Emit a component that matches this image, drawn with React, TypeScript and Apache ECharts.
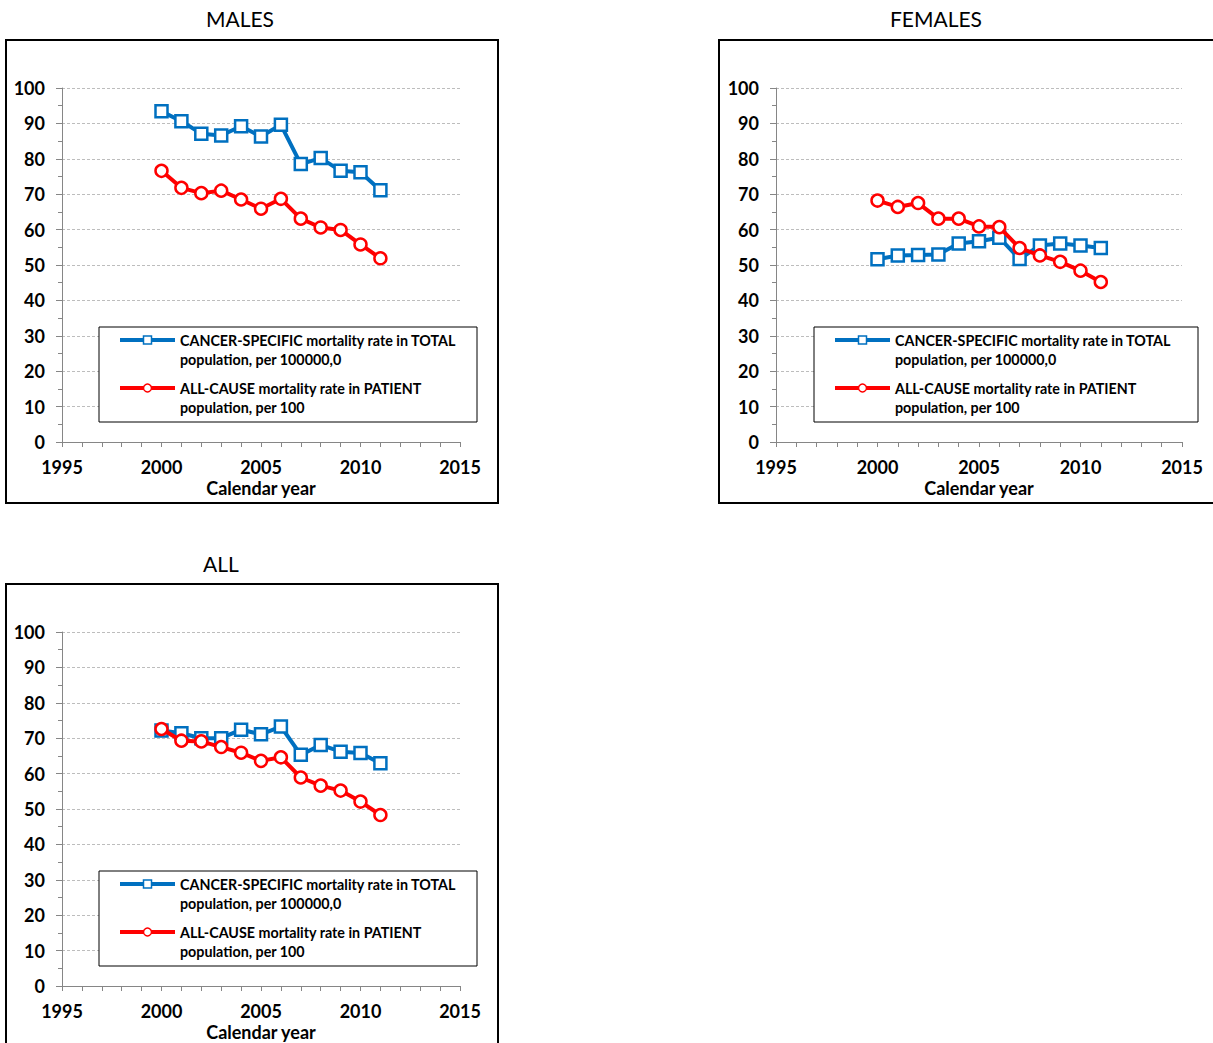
import React, { useEffect, useRef } from "react";
import * as echarts from "echarts";

const years = [2000, 2001, 2002, 2003, 2004, 2005, 2006, 2007, 2008, 2009, 2010, 2011];
const malesCancer = [93.4, 90.6, 87.1, 86.6, 89.2, 86.3, 89.6, 78.5, 80.2, 76.6, 76.2, 71.1];
const malesAllCause = [76.6, 71.8, 70.3, 71.0, 68.5, 65.9, 68.7, 63.1, 60.6, 59.9, 55.8, 51.9];
const femalesCancer = [51.6, 52.7, 52.8, 53.0, 56.1, 56.7, 57.7, 51.7, 55.5, 56.1, 55.5, 54.8];
const femalesAllCause = [68.2, 66.4, 67.5, 63.1, 63.1, 60.9, 60.7, 54.8, 52.7, 50.9, 48.4, 45.2];
const allCancer = [72.2, 71.4, 70.0, 70.0, 72.4, 71.1, 73.3, 65.3, 68.1, 66.2, 65.8, 62.9];
const allAllCause = [72.6, 69.3, 69.1, 67.5, 65.9, 63.6, 64.6, 58.9, 56.6, 55.2, 52.1, 48.3];

const panelTitles = ["MALES", "FEMALES", "ALL"];
const cancerName = "CANCER-SPECIFIC mortality rate in TOTAL";
const cancerName2 = "population, per 100000,0";
const allCauseName = "ALL-CAUSE mortality rate in PATIENT";
const allCauseName2 = "population, per 100";
const xAxisName = "Calendar year";

const BLUE = "#0070C0";
const RED = "#FF0000";
const AXIS = "#868686";
const FONT = "Lato, 'Open Sans', sans-serif";

const panels = [
  { title: panelTitles[0], cancer: malesCancer, allc: malesAllCause, box: [6, 40, 492, 463], grid: [62, 88, 398, 354], titleX: 240, titleY: 18, legend: [99, 327, 378, 95] },
  { title: panelTitles[1], cancer: femalesCancer, allc: femalesAllCause, box: [719, 40, 520, 463], grid: [776, 88, 406, 354], titleX: 936, titleY: 18, legend: [814, 327, 384, 95] },
  { title: panelTitles[2], cancer: allCancer, allc: allAllCause, box: [6, 584, 492, 480], grid: [62, 632, 398, 354], titleX: 221, titleY: 563, legend: [99, 871, 378, 95] },
];

export default function App() {
  const ref = useRef<HTMLDivElement>(null);
  useEffect(() => {
    if (!ref.current) return;
    const chart = echarts.init(ref.current, null, { renderer: "svg" });
    const grids: any[] = [];
    const xAxes: any[] = [];
    const yAxes: any[] = [];
    const series: any[] = [];
    const graphic: any[] = [];
    panels.forEach((p, i) => {
      grids.push({
        left: p.grid[0], top: p.grid[1], width: p.grid[2], height: p.grid[3],
        containLabel: false, outerBoundsMode: "none",
      });
      xAxes.push({
        type: "value", gridIndex: i, min: 1995, max: 2015, interval: 5,
        name: xAxisName, nameLocation: "middle", nameGap: 37,
        nameTextStyle: { fontFamily: FONT, fontWeight: "bold", fontSize: 18, color: "#000" },
        axisLine: { show: true, lineStyle: { color: AXIS, width: 1 } },
        axisTick: { show: true, length: 5, lineStyle: { color: AXIS } },
        minorTick: { show: true, splitNumber: 5, length: 5, lineStyle: { color: AXIS } },
        splitLine: { show: false },
        axisLabel: {
          fontFamily: FONT, fontWeight: "bold", fontSize: 18, color: "#000", margin: 16,
          formatter: (v: number) => String(v),
        },
      });
      yAxes.push({
        type: "value", gridIndex: i, min: 0, max: 100, interval: 10,
        axisLine: { show: true, lineStyle: { color: AXIS, width: 1 } },
        axisTick: { show: true, length: 6, lineStyle: { color: AXIS } },
        minorTick: { show: true, splitNumber: 2, length: 4, lineStyle: { color: AXIS } },
        splitLine: { show: true, lineStyle: { color: "#bdbdbd", type: [3, 2], width: 1 } },
        axisLabel: { fontFamily: FONT, fontWeight: "bold", fontSize: 18, color: "#000", margin: 17 },
      });
      series.push({
        type: "line", xAxisIndex: i, yAxisIndex: i, name: cancerName,
        data: years.map((y, k) => [y, p.cancer[k]]),
        symbol: "rect", symbolSize: 12,
        lineStyle: { color: BLUE, width: 4 },
        itemStyle: { color: "#fff", borderColor: BLUE, borderWidth: 2.5 },
        z: 2,
      });
      series.push({
        type: "line", xAxisIndex: i, yAxisIndex: i, name: allCauseName,
        data: years.map((y, k) => [y, p.allc[k]]),
        symbol: "circle", symbolSize: 12,
        lineStyle: { color: RED, width: 4 },
        itemStyle: { color: "#fff", borderColor: RED, borderWidth: 2.5 },
        z: 3,
      });
      graphic.push({
        type: "rect", z: 50, silent: true,
        shape: { x: p.box[0], y: p.box[1], width: p.box[2], height: p.box[3] },
        style: { fill: "none", stroke: "#000", lineWidth: 2 },
      });
      graphic.push({
        type: "text", z: 50, x: p.titleX, y: p.titleY,
        style: { text: p.title, font: `normal 21px ${FONT}`, fill: "#000", align: "center", verticalAlign: "middle" },
      });
      const [lx, ly, lw, lh] = p.legend;
      const lineX0 = lx + 21;
      const lineX1 = lx + 76;
      const mx = (lineX0 + lineX1) / 2;
      const tx = lx + 81;
      const r1 = ly + 13;
      const r2 = ly + 61;
      graphic.push({
        type: "rect", z: 60, shape: { x: lx, y: ly, width: lw, height: lh },
        style: { fill: "#fff", stroke: "#000", lineWidth: 1 },
      });
      graphic.push({ type: "line", z: 61, shape: { x1: lineX0, y1: r1, x2: lineX1, y2: r1 }, style: { stroke: BLUE, lineWidth: 4 } });
      graphic.push({ type: "rect", z: 62, shape: { x: mx - 4, y: r1 - 4, width: 8, height: 8 }, style: { fill: "#fff", stroke: BLUE, lineWidth: 1.5 } });
      graphic.push({ type: "line", z: 61, shape: { x1: lineX0, y1: r2, x2: lineX1, y2: r2 }, style: { stroke: RED, lineWidth: 4 } });
      graphic.push({ type: "circle", z: 62, shape: { cx: mx, cy: r2, r: 4 }, style: { fill: "#fff", stroke: RED, lineWidth: 1.5 } });
      const tf = `bold 14.3px ${FONT}`;
      graphic.push({ type: "text", z: 62, x: tx, y: r1, style: { text: cancerName, font: tf, fill: "#000", verticalAlign: "middle" } });
      graphic.push({ type: "text", z: 62, x: tx, y: r1 + 19, style: { text: cancerName2, font: tf, fill: "#000", verticalAlign: "middle" } });
      graphic.push({ type: "text", z: 62, x: tx, y: r2, style: { text: allCauseName, font: tf, fill: "#000", verticalAlign: "middle" } });
      graphic.push({ type: "text", z: 62, x: tx, y: r2 + 19, style: { text: allCauseName2, font: tf, fill: "#000", verticalAlign: "middle" } });
    });
    chart.setOption({
      animation: false,
      backgroundColor: "#fff",
      grid: grids,
      xAxis: xAxes,
      yAxis: yAxes,
      series,
      graphic,
    });
    return () => chart.dispose();
  }, []);
  return (
    <div
      ref={ref}
      style={{ position: "fixed", left: 0, top: 0, width: 1213, height: 1043, background: "#fff" }}
    />
  );
}
